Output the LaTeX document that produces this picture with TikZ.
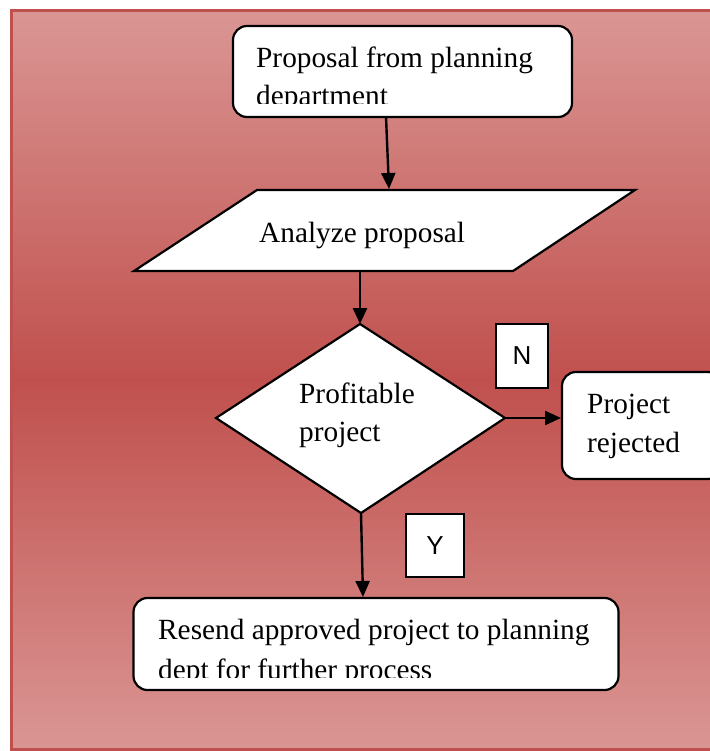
\documentclass[tikz,border=0pt]{standalone}
\usepackage{fontspec}
\setmainfont{Liberation Serif}
\newfontfamily\labfont{Liberation Sans}
\usetikzlibrary{arrows.meta}
\definecolor{bgLight}{RGB}{218,150,148}
\definecolor{bgDark}{RGB}{192,80,77}
\definecolor{bgBorder}{RGB}{192,80,77}
\tikzset{
 shapeline/.style={draw=black, line width=2.2pt, fill=white},
 rbox/.style={shapeline, rounded corners=14pt, inner sep=0pt},
 lbox/.style={draw=black, line width=2.2pt, fill=white, inner sep=0pt},
 txt/.style={inner sep=0pt, font=\fontsize{29.3}{38}\selectfont, anchor=base west},
 lab/.style={inner sep=0pt, font=\labfont\fontsize{26}{30}\selectfont},
 flow/.style={draw=black, line width=2.4pt, -{Triangle[length=16pt,width=14pt]}},
}
\begin{document}
\begin{tikzpicture}[x=1pt,y=-1pt]
\useasboundingbox (0,0) rectangle (709,751);
\fill[white] (0,0) rectangle (709,751);
% background panel
\begin{scope}[y=1pt]
\shade[top color=bgLight, bottom color=bgLight, middle color=bgDark] (11.5,-10.5) rectangle (725,-749.5);
\end{scope}
\draw[bgBorder, line width=3pt] (11.5,10.5) rectangle (725,749.5);

% top box
\node[rbox, minimum width=339pt, minimum height=91pt] (propbox) at (402.5,71.5) {};
\begin{scope}
\clip (233,26) rectangle (572,104);
\node[txt] (proptxtA) at (256,68) {Proposal from planning};
\node[txt] (proptxtB) at (256,106) {department};
\end{scope}

% parallelogram
\coordinate (paTL) at (257,190);
\coordinate (paTR) at (635,190);
\coordinate (paBR) at (513,271);
\coordinate (paBL) at (134,271);
\draw[shapeline] (paTL) -- (paTR) -- (paBR) -- (paBL) -- cycle;
\node[txt] (analyzetxt) at (259,242) {Analyze proposal};

% diamond
\coordinate (diT) at (360,324);
\coordinate (diR) at (505,418);
\coordinate (diB) at (361,513);
\coordinate (diL) at (216,418);
\draw[shapeline] (diT) -- (diR) -- (diB) -- (diL) -- cycle;
\node[txt] (proftxtA) at (299,403) {Profitable};
\node[txt] (proftxtB) at (299,441) {project};

% rejected box
\node[rbox, minimum width=160pt, minimum height=107pt] (rejbox) at (642,425.5) {};
\node[txt] (rejtxtA) at (587,413) {Project};
\node[txt] (rejtxtB) at (587,452) {rejected};

% label boxes
\node[lbox, minimum width=52pt, minimum height=64pt] (nbox) at (522,356) {};
\node[lab] (ntxt) at (nbox.center) {N};
\node[lbox, minimum width=58pt, minimum height=63pt] (ybox) at (435,545.5) {};
\node[lab] (ytxt) at (ybox.center) {Y};

% resend box
\node[rbox, minimum width=485pt, minimum height=92pt] (resbox) at (376,644) {};
\begin{scope}
\clip (134,598) rectangle (618,677);
\node[txt] (restxtA) at (158,639) {Resend approved project to planning};
\node[txt] (restxtB) at (158,679) {dept for further process};
\end{scope}

% connectors
\coordinate (a1s) at (386,117);
\coordinate (a1e) at (389,189);
\coordinate (a2s) at (360,271);
\coordinate (a3e) at (561,418);
\coordinate (a4e) at (363,597);
\draw[flow] (a1s) -- (a1e);
\draw[flow] (a2s) -- (diT);
\draw[flow] (diR) -- (a3e);
\draw[flow] (diB) -- (a4e);
\end{tikzpicture}
\end{document}
